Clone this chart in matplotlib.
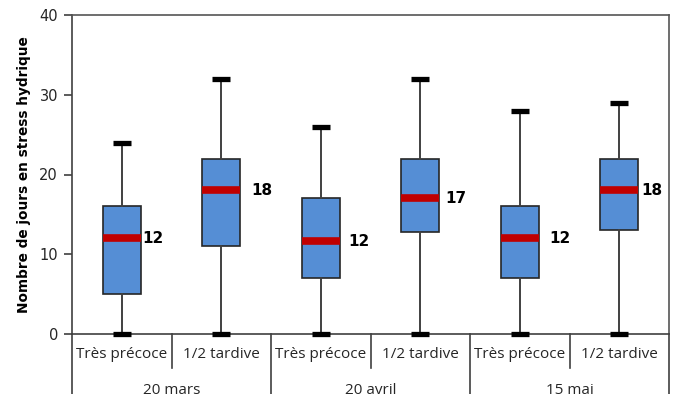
import matplotlib
matplotlib.use("Agg")
import matplotlib.pyplot as plt

# ---- data ----
groups = ["20 mars", "20 avril", "15 mai"]
varieties = ["Très précoce", "1/2 tardive"]
whisker_low = [0, 0, 0, 0, 0, 0]
q1 = [5, 11, 7, 12.8, 7, 13]
median = [12, 18, 11.6, 17, 12, 18]
q3 = [16, 22, 17, 22, 16, 22]
whisker_high = [24, 32, 26, 32, 28, 29]
median_labels = ["12", "18", "12", "17", "12", "18"]
yticks = [0, 10, 20, 30, 40]
ylabel = "Nombre de jours en stress hydrique"

W, H = 675, 394
fig = plt.figure(figsize=(W / 100, H / 100), dpi=100)
ax = fig.add_axes([72 / W, (H - 334) / H, (669 - 72) / W, (334 - 15) / H])

n = len(q1)
positions = list(range(n))
stats = []
for i in range(n):
    stats.append(dict(med=median[i], q1=q1[i], q3=q3[i],
                      whislo=whisker_low[i], whishi=whisker_high[i], fliers=[]))

res = ax.bxp(stats, positions=positions, widths=0.38, patch_artist=True,
             showfliers=False, capwidths=0.18,
             boxprops=dict(facecolor="#558ED5", edgecolor="#262626", linewidth=1.2),
             whiskerprops=dict(color="#404040", linewidth=1.4),
             capprops=dict(color="black", linewidth=3.8, solid_capstyle="butt"),
             medianprops=dict(color="#C00000", linewidth=5.5, solid_capstyle="butt"))
for c in res["caps"]:
    c.set_clip_on(False)
    c.set_zorder(5)

offsets = [0.21, 0.30, 0.28, 0.25, 0.30, 0.22]
for i in range(n):
    ax.text(positions[i] + offsets[i], median[i], median_labels[i],
            ha="left", va="center", fontsize=11, fontweight="bold",
            family="DejaVu Sans", color="black")

ax.set_xlim(-0.5, n - 0.5)
ax.set_ylim(0, 40)
ax.set_yticks(yticks)
ax.tick_params(axis="y", direction="out", length=6, width=1.2, colors="#404040",
               labelsize=10.5, labelcolor="#262626", pad=4)
ax.set_xticks([])
ax.set_ylabel(ylabel, fontsize=9.8, fontweight="bold", family="DejaVu Sans",
              labelpad=6, color="black")

for side in ["top", "right"]:
    ax.spines[side].set_color("#555555")
    ax.spines[side].set_linewidth(1.2)
ax.spines["left"].set_color("#404040")
ax.spines["left"].set_linewidth(1.2)
ax.spines["bottom"].set_color("#404040")
ax.spines["bottom"].set_linewidth(1.2)

trans = ax.get_xaxis_transform()
ax_h = 334 - 15
y_short = -(368 - 334) / ax_h
y_long = -(H - 334 + 2) / ax_h

# variety labels
labels = []
for g in groups:
    labels.extend(varieties)
for i, lab in enumerate(labels):
    ax.text(positions[i], -(355 - 334) / ax_h, lab, transform=trans,
            ha="center", va="center", fontsize=11, family="Open Sans",
            color="#262626", clip_on=False)

# separators
for k in range(len(groups)):
    xs = 2 * k + 0.5
    ax.plot([xs, xs], [0, y_short], transform=trans, color="#404040",
            linewidth=1.2, clip_on=False)
for xs in [-0.5] + [2 * k + 1.5 for k in range(len(groups))]:
    ax.plot([xs, xs], [0, y_long], transform=trans, color="#404040",
            linewidth=1.2, clip_on=False)

# group labels (partly cut by figure edge, as in the reference)
for k, g in enumerate(groups):
    ax.text(2 * k + 0.5, -(383 - 334) / ax_h, g, transform=trans,
            ha="center", va="top", fontsize=11, family="Open Sans",
            color="#262626", clip_on=False)

fig.savefig("out.png", dpi=100)
